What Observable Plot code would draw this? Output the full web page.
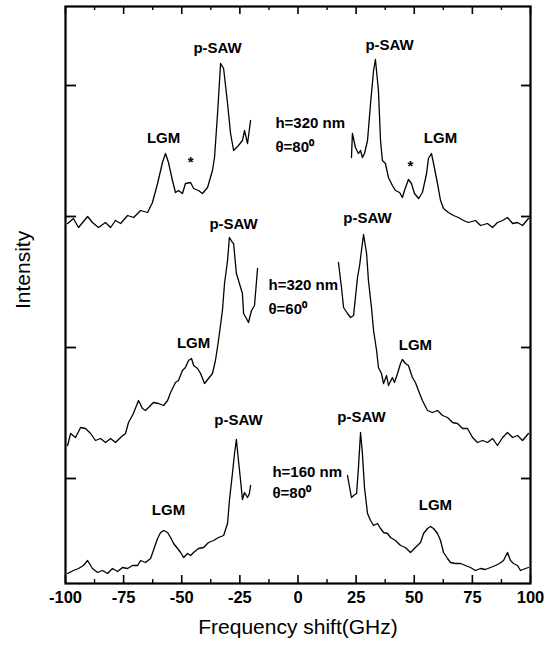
<!DOCTYPE html>
<html><head><meta charset="utf-8">
<script src="https://cdn.jsdelivr.net/npm/d3@7"></script>
<script src="https://cdn.jsdelivr.net/npm/@observablehq/plot@0.6"></script>
<style>body{margin:0;background:#fff;}</style>
</head><body><div id="chart"></div>
<script>
// Frequency shift (GHz) and intensity (arbitrary units, stacked offsets included)
const fTopL = [-99.1,-96.6,-94.4,-90.5,-88.4,-85.8,-82.8,-80.6,-78.5,-76.3,-73.3,-70.7,-67.7,-64.7,-62.6,-60.4,-58.3,-57.0,-55.7,-54.0,-52.7,-51.4,-49.7,-48.4,-46.2,-44.9,-42.8,-41.1,-38.9,-36.8,-35.9,-34.6,-33.3,-32.0,-30.3,-29.0,-27.7,-25.6,-23.9,-23.0,-21.7,-20.4];
const iTopL = [360,365,356,367,361,356,361,356,363,360,368,366,373,371,381,400,421,430,421,403,391,393,390,400,401,395,393,390,396,413,426,470,520,515,480,450,433,438,443,453,440,463];
const fTopR = [23.0,23.4,24.7,26.0,26.9,27.7,28.6,29.9,31.2,32.5,33.3,34.6,35.5,36.3,37.6,38.9,40.6,41.9,43.7,44.9,45.8,47.5,48.8,50.1,51.9,53.5,55.3,56.1,57.4,58.3,60.0,61.3,62.6,64.7,66.9,69.0,71.2,73.3,76.3,78.5,81.5,83.7,85.8,88.0,90.1,92.3,94.4,96.6,99.1];
const iTopR = [426,450,436,430,433,426,430,443,480,513,524,493,443,423,420,406,398,393,391,386,393,404,400,390,385,391,410,425,430,420,400,383,375,371,368,366,363,361,363,358,360,356,361,363,366,360,361,358,365];
const fMidL = [-99.1,-97.8,-95.7,-93.5,-91.4,-89.2,-87.1,-84.9,-82.8,-80.6,-78.5,-76.3,-74.2,-72.9,-70.8,-68.6,-66.9,-65.6,-64.3,-62.2,-60.0,-57.8,-56.1,-54.8,-52.7,-51.4,-49.7,-48.4,-47.1,-45.8,-44.9,-43.2,-41.9,-40.2,-38.5,-36.8,-35.5,-34.2,-32.5,-31.6,-30.3,-29.5,-28.2,-27.7,-26.5,-25.2,-23.9,-23.4,-21.7,-21.3,-20.0,-18.7,-17.4];
const iMidL = [138,150,146,156,155,150,143,145,141,145,141,146,150,161,170,183,175,173,176,181,180,178,183,191,201,203,213,216,223,225,218,215,210,200,205,210,223,243,273,300,323,346,341,340,310,300,290,270,263,261,273,278,315];
const fMidR = [17.4,18.7,19.6,21.3,22.6,23.9,24.7,25.6,26.5,27.3,28.2,29.5,30.3,31.6,32.5,33.8,34.6,35.9,36.8,38.1,38.9,40.6,41.5,42.8,44.1,44.9,46.2,47.5,49.2,50.5,51.8,53.5,55.7,57.8,60.0,62.2,64.3,66.5,68.6,70.8,72.9,75.1,77.2,79.4,81.5,83.7,85.8,88.0,90.1,92.3,94.4,96.6,99.1];
const iMidR = [321,296,276,270,266,268,286,306,318,333,349,330,303,276,253,233,216,210,200,208,198,206,201,210,220,224,220,218,206,201,193,183,173,171,173,168,166,161,160,155,155,146,141,143,141,145,138,146,151,146,148,143,150];
const fBotL = [-99.1,-96.6,-94.4,-92.3,-90.5,-88.4,-86.2,-84.1,-81.9,-79.8,-77.6,-75.5,-73.3,-71.2,-69.0,-67.7,-65.6,-63.4,-62.2,-60.4,-59.1,-57.8,-56.1,-54.8,-53.5,-51.8,-50.5,-49.2,-47.5,-46.2,-44.9,-42.8,-40.6,-38.5,-36.3,-34.2,-32.0,-30.3,-29.5,-28.2,-27.3,-26.5,-25.6,-24.7,-23.9,-23.0,-21.7,-20.9,-20.4];
const iBotL = [10,13,15,18,23,15,11,13,10,15,12,16,15,18,18,23,21,25,33,45,51,53,51,46,40,35,31,26,30,28,31,35,36,41,43,46,48,60,83,110,130,144,123,103,84,91,86,90,98];
const fBotR = [21.3,22.2,23.0,23.9,25.2,26.0,26.9,27.7,28.6,29.9,31.2,32.5,34.2,35.5,36.8,38.5,39.8,41.9,44.1,46.2,48.4,50.5,52.7,54.0,55.7,57.0,58.3,60.0,61.3,62.6,64.3,65.6,67.7,69.9,72.0,74.2,76.3,78.5,80.6,82.8,84.9,86.7,88.4,90.1,91.4,92.7,94.4,95.7,97.8,99.1];
const iBotR = [108,96,86,88,90,116,151,130,96,70,63,58,60,55,51,50,46,43,38,36,31,36,41,50,55,57,55,50,43,31,25,21,20,20,18,16,13,15,14,16,18,20,23,31,23,20,18,13,15,16];

const xTicks = [-100,-75,-50,-25,0,25,50,75,100];
const xMinor = [-87.5,-62.5,-37.5,-12.5,12.5,37.5,62.5,87.5];
const yTicks = [105,236,367,498];

const annText = ["p-SAW","LGM","*","p-SAW","LGM","*","p-SAW","LGM","p-SAW","LGM","p-SAW","LGM","p-SAW","LGM"];
const annFreq = [-34.6,-57.8,-46.2,39.4,61.3,48.4,-27.7,-44.9,29.9,50.5,-25.6,-55.7,27.3,59.1];
const annInt  = [535,445,421,538,445,417,359,240,365,238,163,73,166,78];

const condText = ["h=320 nm","θ=80⁰","h=320 nm","θ=60⁰","h=160 nm","θ=80⁰"];
const condFreq = [-9.7,-9.7,-12.7,-12.7,-11.0,-11.0];
const condInt  = [460,436,298,274,111,90];

const rows = [];
function add(name, f, v){ f.forEach((x,i)=>rows.push({series:name, freq:x, intensity:v[i]})); }
add("topL",fTopL,iTopL); add("topR",fTopR,iTopR);
add("midL",fMidL,iMidL); add("midR",fMidR,iMidR);
add("botL",fBotL,iBotL); add("botR",fBotR,iBotR);
const ann = annText.map((t,i)=>({t, x:annFreq[i], y:annInt[i]}));
const cond = condText.map((t,i)=>({t, x:condFreq[i], y:condInt[i]}));

const W=545, H=652, mL=65, mR=15, mT=6, mB=69;
const fw = W-mL-mR, fh = H-mT-mB;
const font = "'Liberation Sans', Arial, Helvetica, sans-serif";

const chart = Plot.plot({
  width: W, height: H,
  marginLeft: mL, marginRight: mR, marginTop: mT, marginBottom: mB,
  style: {fontFamily: font, background: "white", color: "black", overflow: "visible"},
  x: {domain: [-100, 100], axis: null},
  y: {domain: [0, 577], axis: null},
  marks: [
    Plot.line(rows, {x: "freq", y: "intensity", z: "series", stroke: "black", strokeWidth: 1.3, curve: "linear"}),
    Plot.tickX(xTicks, {x: d => d, insetTop: fh - 8, stroke: "black", strokeWidth: 1.6}),
    Plot.tickX(xTicks, {x: d => d, insetBottom: fh - 8, stroke: "black", strokeWidth: 1.6}),
    Plot.tickX(xMinor, {x: d => d, insetTop: fh - 4, stroke: "black", strokeWidth: 1.4}),
    Plot.tickX(xMinor, {x: d => d, insetBottom: fh - 4, stroke: "black", strokeWidth: 1.4}),
    Plot.tickY(yTicks, {y: d => d, insetRight: fw - 11, stroke: "black", strokeWidth: 1.8}),
    Plot.tickY(yTicks, {y: d => d, insetLeft: fw - 9, stroke: "black", strokeWidth: 1.8}),
    Plot.frame({stroke: "black", strokeWidth: 2.2}),
    Plot.text(xTicks, {x: d => d, text: d => String(d), frameAnchor: "bottom", dy: 19, fontSize: 16.5, fontWeight: "bold", fill: "black"}),
    Plot.text(["Frequency shift(GHz)"], {frameAnchor: "bottom", dy: 50, fontSize: 21, fill: "black"}),
    Plot.text(["Intensity"], {frameAnchor: "left", dx: -42, dy: 14, rotate: -90, fontSize: 21, fill: "black"}),
    Plot.text(ann, {x: "x", y: "y", text: "t", fontSize: 15, fontWeight: "bold", fill: "black"}),
    Plot.text(cond, {x: "x", y: "y", text: "t", textAnchor: "start", fontSize: 15, fontWeight: "bold", fill: "black"})
  ]
});
document.getElementById("chart").appendChild(chart);
</script>
</body></html>
